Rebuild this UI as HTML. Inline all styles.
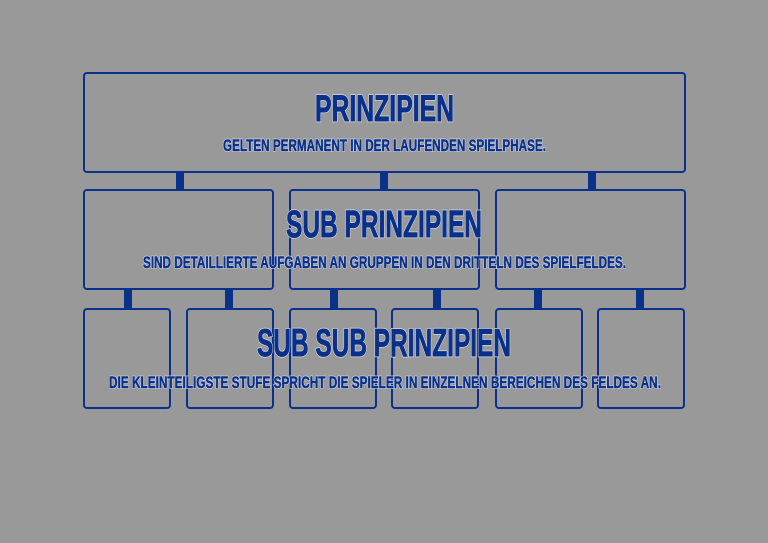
<!DOCTYPE html>
<html><head><meta charset="utf-8"><style>
html,body{margin:0;padding:0;background:#999999;}
svg{display:block}
text{font-family:"Liberation Sans",sans-serif;font-weight:bold;text-anchor:start}
.o{fill:#0a318a;stroke:#d8d8e0;stroke-width:2.4}
.i{fill:#0a318a;stroke:#0a318a;stroke-width:0.9}
.os{fill:#0a318a;stroke:#d8d8e0;stroke-width:1.8}
.is{fill:#0a318a;stroke:#0a318a;stroke-width:0.5}
</style></head><body>
<svg width="768" height="543" viewBox="0 0 768 543">
<rect width="768" height="543" fill="#999999"/>
<g fill="none" stroke="#0a318a" stroke-width="2">
<rect x="84" y="73" width="601" height="99" rx="3"/>
<rect x="84" y="190" width="189" height="99" rx="3"/>
<rect x="290" y="190" width="189" height="99" rx="3"/>
<rect x="496" y="190" width="189" height="99" rx="3"/>
<rect x="84" y="309" width="86" height="99" rx="3"/>
<rect x="187" y="309" width="86" height="99" rx="3"/>
<rect x="290" y="309" width="86" height="99" rx="3"/>
<rect x="392" y="309" width="86" height="99" rx="3"/>
<rect x="496" y="309" width="86" height="99" rx="3"/>
<rect x="598" y="309" width="86" height="99" rx="3"/>
</g>
<g fill="#0a318a">
<rect x="176" y="172" width="8" height="17"/>
<rect x="380" y="172" width="8" height="17"/>
<rect x="588" y="172" width="8" height="17"/>
<rect x="124" y="289" width="8" height="19"/>
<rect x="225" y="289" width="8" height="19"/>
<rect x="330" y="289" width="8" height="19"/>
<rect x="433" y="289" width="8" height="19"/>
<rect x="534" y="289" width="8" height="19"/>
<rect x="636" y="289" width="8" height="19"/>
</g>
<g class="o">
<text x="315" y="121" font-size="37" textLength="139" lengthAdjust="spacingAndGlyphs">PRINZIPIEN</text>
<text x="286" y="237" font-size="38" textLength="196" lengthAdjust="spacingAndGlyphs">SUB PRINZIPIEN</text>
<text x="257" y="356" font-size="39" textLength="254" lengthAdjust="spacingAndGlyphs">SUB SUB PRINZIPIEN</text>
</g>
<g class="i">
<text x="315" y="121" font-size="37" textLength="139" lengthAdjust="spacingAndGlyphs">PRINZIPIEN</text>
<text x="286" y="237" font-size="38" textLength="196" lengthAdjust="spacingAndGlyphs">SUB PRINZIPIEN</text>
<text x="257" y="356" font-size="39" textLength="254" lengthAdjust="spacingAndGlyphs">SUB SUB PRINZIPIEN</text>
</g>
<g class="os">
<text x="223" y="151" font-size="16.5" textLength="323" lengthAdjust="spacingAndGlyphs">GELTEN PERMANENT IN DER LAUFENDEN SPIELPHASE.</text>
<text x="143" y="268" font-size="17" textLength="483" lengthAdjust="spacingAndGlyphs">SIND DETAILLIERTE AUFGABEN AN GRUPPEN IN DEN DRITTELN DES SPIELFELDES.</text>
<text x="109" y="388" font-size="17" textLength="552" lengthAdjust="spacingAndGlyphs">DIE KLEINTEILIGSTE STUFE SPRICHT DIE SPIELER IN EINZELNEN BEREICHEN DES FELDES AN.</text>
</g>
<g class="is">
<text x="223" y="151" font-size="16.5" textLength="323" lengthAdjust="spacingAndGlyphs">GELTEN PERMANENT IN DER LAUFENDEN SPIELPHASE.</text>
<text x="143" y="268" font-size="17" textLength="483" lengthAdjust="spacingAndGlyphs">SIND DETAILLIERTE AUFGABEN AN GRUPPEN IN DEN DRITTELN DES SPIELFELDES.</text>
<text x="109" y="388" font-size="17" textLength="552" lengthAdjust="spacingAndGlyphs">DIE KLEINTEILIGSTE STUFE SPRICHT DIE SPIELER IN EINZELNEN BEREICHEN DES FELDES AN.</text>
</g>
</svg>
</body></html>
